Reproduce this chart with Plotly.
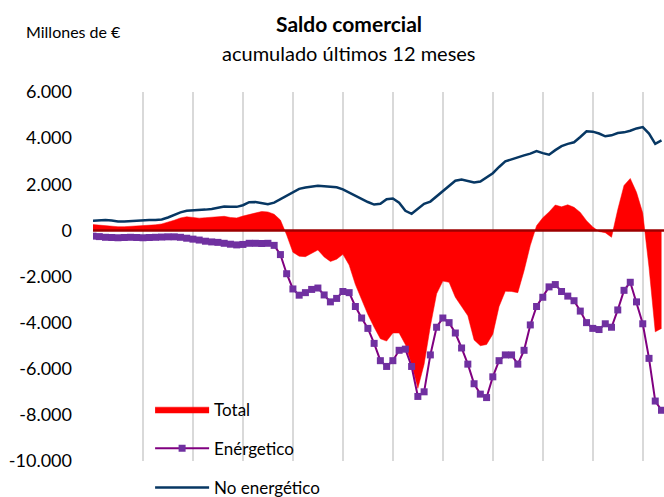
import plotly.graph_objects as go

# Saldo comercial acumulado 12 meses (millones de euros), datos trimestrales
meses = [3 * i for i in range(92)]

total = [
    250, 220, 200, 180, 160, 160, 170, 180, 190, 210,
    240, 280, 350, 440, 540, 590, 560, 530, 550, 570,
    590, 610, 560, 540, 620, 690, 760, 820, 800, 700,
    450, -200, -950, -1120, -1140, -1000, -850, -1150, -1350, -1250,
    -1040, -1500, -2350, -3000, -3650, -4200, -4700, -4800, -4450, -4450,
    -4950, -5800, -6850, -5800, -4160, -2750, -2200, -2250, -2900, -3300,
    -3700, -4750, -5000, -4950, -4500, -3300, -2640, -2650, -2700, -1750,
    -650, 200, 550, 800, 1100, 1020, 1110, 1000, 780, 420,
    150, -50, -100, -300, 900, 1950, 2250, 1650, 750, -1600,
    -4400, -4250,
]

energetico = [
    -250, -270, -300, -310, -320, -310, -300, -310, -320, -310,
    -300, -290, -280, -280, -300, -340, -380, -420, -470, -500,
    -520, -560, -600, -630, -610, -560, -560, -570, -560, -650,
    -1050, -1880, -2540, -2810, -2700, -2560, -2500, -2800, -3100, -2950,
    -2650, -2700, -3300, -3800, -4250, -4900, -5650, -5900, -5650, -5200,
    -5150, -5900, -7200, -7000, -5400, -4200, -3800, -4000, -4450, -5100,
    -5800, -6650, -7100, -7250, -6350, -5650, -5400, -5400, -5800, -5200,
    -4100, -3300, -2900, -2450, -2350, -2650, -2850, -3050, -3500, -4000,
    -4250, -4300, -4050, -4200, -3450, -2600, -2250, -3100, -4050, -5550,
    -7400, -7800,
]

no_energetico = [
    420, 440, 450, 430, 390, 390, 410, 430, 450, 450,
    450, 470, 560, 670, 780, 850, 860, 880, 900, 930,
    970, 1030, 1020, 1020, 1090, 1220, 1230, 1180, 1130, 1200,
    1350, 1500, 1650, 1800, 1860, 1910, 1930, 1910, 1890, 1870,
    1780, 1640, 1500, 1360, 1230, 1120, 1150, 1350, 1380, 1200,
    850, 720, 950, 1150, 1250, 1480, 1700, 1950, 2150, 2200,
    2150, 2080, 2120, 2300, 2480, 2750, 2990, 3080, 3150, 3250,
    3330, 3440, 3350, 3280, 3480, 3650, 3750, 3820, 4050, 4300,
    4280, 4200, 4080, 4120, 4220, 4250, 4320, 4420, 4480, 4200,
    3750, 3900,
]

y_ticks = [-10000, -8000, -6000, -4000, -2000, 0, 2000, 4000, 6000]
y_labels = ["-10.000", "-8.000", "-6.000", "-4.000", "-2.000", "0", "2.000", "4.000", "6.000"]

FONT = "Lato, 'Open Sans', sans-serif"

fig = go.Figure()

fig.add_trace(go.Scatter(
    x=meses, y=total, name="Total",
    mode="lines", fill="tozeroy",
    fillcolor="#ff0000", line=dict(color="#ff0000", width=0.5),
    legendgroup="a",
))
fig.add_trace(go.Scatter(
    x=meses, y=energetico, name="Enérgetico",
    mode="lines+markers",
    line=dict(color="#800080", width=2),
    marker=dict(symbol="square", size=7, color="#7030a0"),
    legendgroup="b",
))
fig.add_trace(go.Scatter(
    x=meses, y=no_energetico, name="No energético",
    mode="lines",
    line=dict(color="#073763", width=2.5),
    legendgroup="c",
))

# caja blanca de la leyenda (tapa las líneas de división)
fig.add_shape(type="rect", xref="paper", yref="paper",
              x0=0.08, x1=0.44, y0=-0.2, y1=0.186,
              fillcolor="white", line_width=0, layer="between")
# línea del cero
fig.add_shape(type="line", xref="paper", yref="y",
              x0=0, x1=1, y0=0, y1=0,
              line=dict(color="#9c0000", width=2.5), layer="above")

# textos en píxeles -> coordenadas de papel
pw = 664 - 93
ph = 497 - 92 - 36


def px(x, y):
    return (x - 93) / pw, (497 - 36 - y) / ph


tx, ty = px(349, 23)
sx, sy = px(349, 53)
mx, my = px(73, 31)

fig.update_layout(
    width=664, height=497,
    margin=dict(l=93, r=0, t=92, b=36, autoexpand=False),
    paper_bgcolor="white", plot_bgcolor="white",
    font=dict(family=FONT, color="#000000"),
    showlegend=True,
    legend=dict(
        x=0.1, y=0.188, xanchor="left", yanchor="top",
        bgcolor="rgba(255,255,255,0)", borderwidth=0,
        font=dict(size=17, family=FONT),
        itemwidth=54, tracegroupgap=14,
        traceorder="grouped",
    ),
    annotations=[
        dict(text="<b>Saldo comercial</b>", x=tx, y=ty, xref="paper", yref="paper",
             xanchor="center", yanchor="middle",
             showarrow=False, font=dict(size=21, family=FONT)),
        dict(text="acumulado últimos 12 meses", x=sx, y=sy, xref="paper", yref="paper",
             xanchor="center", yanchor="middle",
             showarrow=False, font=dict(size=20, family=FONT)),
        dict(text="Millones de €", x=mx, y=my, xref="paper", yref="paper",
             xanchor="center", yanchor="middle",
             showarrow=False, font=dict(size=16, family=FONT)),
    ],
)

fig.update_xaxes(
    range=[0, 274.2], tick0=0, dtick=24,
    showgrid=True, gridcolor="#d9d9d9", gridwidth=2,
    showticklabels=False, ticks="", zeroline=False, showline=False,
)
fig.update_yaxes(
    range=[-10000, 6000], tickvals=y_ticks, ticktext=y_labels,
    showgrid=False, zeroline=False, showline=False, ticks="",
    tickfont=dict(size=18, family=FONT), ticklabelstandoff=20,
)

fig.write_html("out.html", config={"displayModeBar": False},
               post_script="document.body.style.margin='0';")
